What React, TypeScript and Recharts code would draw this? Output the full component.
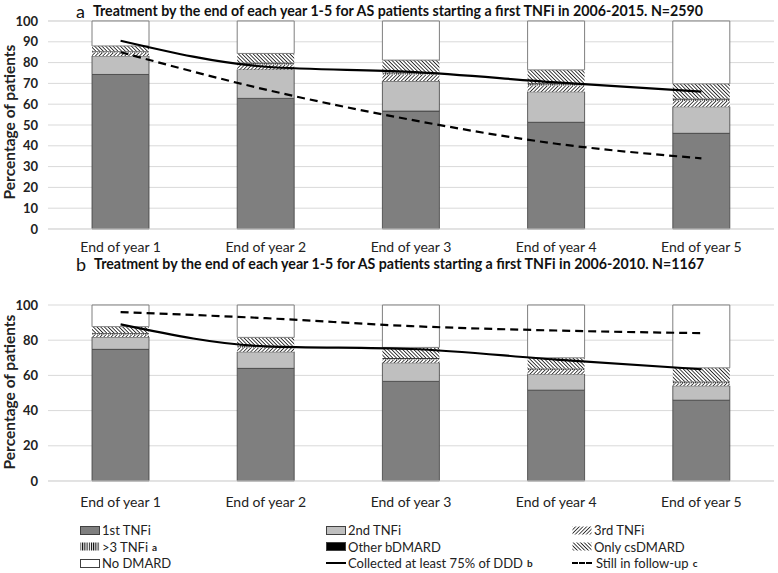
import { ComposedChart, Bar, Line, XAxis, YAxis, CartesianGrid } from "recharts";

const categories = ["End of year 1", "End of year 2", "End of year 3", "End of year 4", "End of year 5"];

// panel a: 2006-2015, N=2590
const aFirst = [74.3, 62.8, 56.7, 51.3, 46.0];
const aSecond = [8.9, 13.9, 14.4, 14.7, 12.8];
const aThird = [1.6, 2.4, 3.2, 3.0, 2.8];
const aMore = [0.4, 0.5, 0.6, 0.6, 0.7];
const aOther = [0.3, 0.4, 0.4, 0.5, 0.5];
const aCs = [2.5, 4.4, 5.9, 6.4, 7.0];
const aNone = [12.0, 15.6, 18.8, 23.5, 30.2];
const aCollected = [90.5, 78, 75.5, 70.5, 66];
const aFollow = [85, 67, 52.5, 41, 34];

// panel b: 2006-2010, N=1167
const bFirst = [74.8, 64.0, 56.6, 51.6, 45.9];
const bSecond = [7.0, 9.4, 10.6, 9.1, 8.2];
const bThird = [1.5, 2.5, 1.8, 2.3, 1.5];
const bMore = [0.5, 0.6, 0.5, 0.5, 0.5];
const bOther = [0.3, 0.4, 0.4, 0.4, 0.5];
const bCs = [3.6, 4.7, 6.0, 6.1, 7.7];
const bNone = [12.3, 18.4, 24.1, 30.0, 35.7];
const bCollected = [89, 76.5, 75, 69, 63.5];
const bFollow = [96, 92.5, 88, 85.5, 84];

const aTicks = [0, 10, 20, 30, 40, 50, 60, 70, 80, 90, 100];
const bTicks = [0, 20, 40, 60, 80, 100];

const FONT = "Lato, 'Open Sans', sans-serif";
const EDGE = "#404040";

function build(first, second, third, more, other, cs, none, coll, follow) {
  return categories.map((name, i) => ({
    name,
    first: first[i],
    second: second[i],
    third: third[i],
    more: more[i],
    other: other[i],
    cs: cs[i],
    none: none[i],
    coll: coll[i],
    follow: follow[i],
  }));
}

const dataA = build(aFirst, aSecond, aThird, aMore, aOther, aCs, aNone, aCollected, aFollow);
const dataB = build(bFirst, bSecond, bThird, bMore, bOther, bCs, bNone, bCollected, bFollow);

function Patterns() {
  return (
    <svg width={0} height={0} style={{ position: "absolute" }}>
      <defs>
        <pattern id="pThird" patternUnits="userSpaceOnUse" width={2.6} height={2.6} patternTransform="rotate(45)">
          <rect width={2.6} height={2.6} fill="#fff" />
          <line x1={0} y1={0} x2={0} y2={2.6} stroke="#000" strokeWidth={1.4} />
        </pattern>
        <pattern id="pMore" patternUnits="userSpaceOnUse" width={2.2} height={3}>
          <rect width={2.2} height={3} fill="#fff" />
          <line x1={0.5} y1={0} x2={0.5} y2={3} stroke="#000" strokeWidth={1} />
        </pattern>
        <pattern id="pCs" patternUnits="userSpaceOnUse" width={2.6} height={2.6} patternTransform="rotate(-45)">
          <rect width={2.6} height={2.6} fill="#fff" />
          <line x1={0} y1={0} x2={0} y2={2.6} stroke="#111" strokeWidth={1.6} />
        </pattern>
      </defs>
    </svg>
  );
}

function Panel({ data, ticks, height, top, labelGap }) {
  return (
    <ComposedChart
      width={778}
      height={height}
      data={data}
      margin={{ top: top, right: 4, bottom: 1, left: 0 }}
      barCategoryGap={0}
    >
      <CartesianGrid vertical={false} stroke="#d9d9d9" />
      <XAxis
        dataKey="name"
        height={28}
        tickLine={false}
        axisLine={{ stroke: "#d9d9d9" }}
        tickSize={0}
        tickMargin={labelGap}
        tick={{ fontSize: 14, fill: "#222", fontFamily: FONT }}
      />
      <YAxis
        width={48}
        domain={[0, 100]}
        ticks={ticks}
        interval={0}
        axisLine={false}
        tickLine={false}
        tickSize={0}
        tickMargin={10}
        tick={{ fontSize: 13, fill: "#222", fontWeight: "bold", fontFamily: FONT }}
      />
      <Bar dataKey="first" stackId="s" barSize={57} fill="#7f7f7f" stroke={EDGE} strokeWidth={0.8} isAnimationActive={false} />
      <Bar dataKey="second" stackId="s" barSize={57} fill="#bfbfbf" stroke={EDGE} strokeWidth={0.8} isAnimationActive={false} />
      <Bar dataKey="third" stackId="s" barSize={57} fill="url(#pThird)" stroke="none" isAnimationActive={false} />
      <Bar dataKey="more" stackId="s" barSize={57} fill="url(#pMore)" stroke="none" isAnimationActive={false} />
      <Bar dataKey="other" stackId="s" barSize={57} fill="#000" isAnimationActive={false} />
      <Bar dataKey="cs" stackId="s" barSize={57} fill="url(#pCs)" stroke="none" isAnimationActive={false} />
      <Bar dataKey="none" stackId="s" barSize={57} fill="#fff" stroke="#7f7f7f" strokeWidth={1} isAnimationActive={false} />
      <Line dataKey="coll" type="monotone" stroke="#000" strokeWidth={2.2} dot={false} isAnimationActive={false} />
      <Line dataKey="follow" type="monotone" stroke="#000" strokeWidth={2.2} strokeDasharray="8 5" dot={false} isAnimationActive={false} />
    </ComposedChart>
  );
}

function Title({ letter, text, y }) {
  return (
    <div
      style={{
        position: "absolute",
        left: 76,
        top: y,
        height: 18,
        display: "flex",
        alignItems: "center",
        fontFamily: FONT,
        color: "#111",
        whiteSpace: "nowrap",
        lineHeight: "16px",
      }}
    >
      <span style={{ fontSize: 18, marginRight: 8, lineHeight: "16px" }}>{letter}</span>
      <span style={{ fontSize: 14.2, fontWeight: "bold", lineHeight: "16px" }}>{text}</span>
    </div>
  );
}

function YLabel({ cy }) {
  return (
    <div
      style={{
        position: "absolute",
        left: 9,
        top: cy,
        transform: "translate(-50%, -50%) rotate(-90deg)",
        fontFamily: FONT,
        fontSize: 15.5,
        fontWeight: "bold",
        color: "#222",
        whiteSpace: "nowrap",
      }}
    >
      Percentage of patients
    </div>
  );
}

function Swatch({ kind }) {
  if (kind === "solid") return <div style={{ width: 20, height: 0, borderTop: "2.5px solid #000", marginRight: 2 }} />;
  if (kind === "dashed") return <div style={{ width: 20, height: 0, borderTop: "2.5px dashed #000", marginRight: 4 }} />;
  return (
    <svg width={20} height={9} style={{ marginRight: 2 }}>
      <rect x={0.5} y={0.5} width={19} height={8} fill={kind} stroke={kind.startsWith("url") ? "none" : "#404040"} strokeWidth={1} />
    </svg>
  );
}

const legendItems = [
  { label: "1st TNFi", kind: "#7f7f7f", sup: "" },
  { label: "2nd TNFi", kind: "#bfbfbf", sup: "" },
  { label: "3rd TNFi", kind: "url(#pThird)", sup: "" },
  { label: ">3 TNFi", kind: "url(#pMore)", sup: "a" },
  { label: "Other bDMARD", kind: "#000", sup: "" },
  { label: "Only csDMARD", kind: "url(#pCs)", sup: "" },
  { label: "No DMARD", kind: "#fff", sup: "" },
  { label: "Collected at least 75% of DDD", kind: "solid", sup: "b" },
  { label: "Still in follow-up", kind: "dashed", sup: "c" },
];

const legendCols = [80, 326, 572];

export default function App() {
  return (
    <div style={{ position: "absolute", left: 0, top: 0, width: 778, height: 573, background: "#fff", overflow: "hidden" }}>
      <Patterns />
      <div style={{ position: "absolute", left: 0, top: 0 }}>
        <Panel data={dataA} ticks={aTicks} height={258} top={21} labelGap={13} />
      </div>
      <div style={{ position: "absolute", left: 0, top: 260 }}>
        <Panel data={dataB} ticks={bTicks} height={250} top={45} labelGap={16} />
      </div>
      <Title letter="a" text="Treatment by the end of each year 1-5 for AS patients starting a first TNFi in 2006-2015. N=2590" y={2} />
      <Title letter="b" text="Treatment by the end of each year 1-5 for AS patients starting a first TNFi in 2006-2010. N=1167" y={255} />
      <YLabel cy={122} />
      <YLabel cy={392} />
      {legendItems.map((it, i) => (
        <div
          key={it.label}
          style={{
            position: "absolute",
            left: legendCols[i % 3],
            top: 522 + Math.floor(i / 3) * 16.5,
            display: "flex",
            alignItems: "center",
            fontFamily: FONT,
            fontSize: 13,
            color: "#222",
            whiteSpace: "nowrap",
            lineHeight: "16px",
          }}
        >
          <Swatch kind={it.kind} />
          <span>{it.label}</span>
          {it.sup && <sup style={{ fontSize: 10, fontWeight: "bold", marginLeft: 4, lineHeight: 0 }}>{it.sup}</sup>}
        </div>
      ))}
    </div>
  );
}
